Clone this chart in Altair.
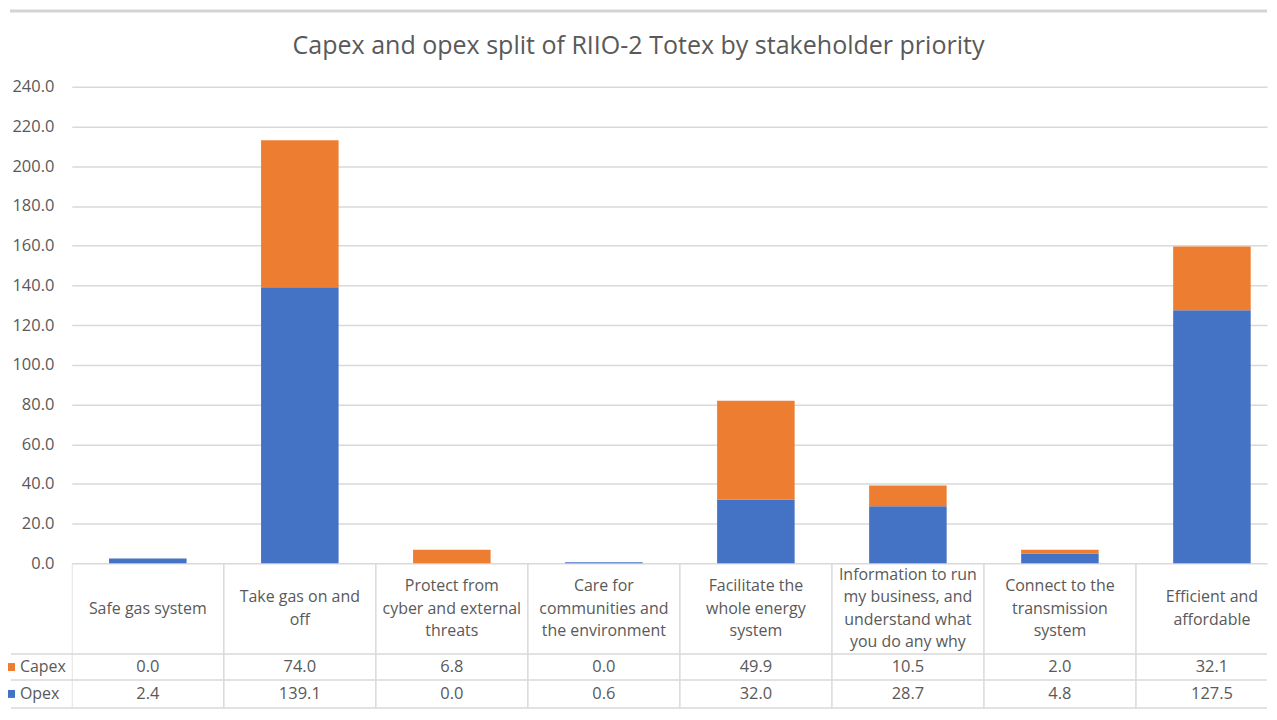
import altair as alt
import pandas as pd

# ---- data ----
categories = [
    "Safe gas system",
    "Take gas on and off",
    "Protect from cyber and external threats",
    "Care for communities and the environment",
    "Facilitate the whole energy system",
    "Information to run my business, and understand what you do any why",
    "Connect to the transmission system",
    "Efficient and affordable",
]
category_labels = [
    "Safe gas system",
    "Take gas on and\noff",
    "Protect from\ncyber and external\nthreats",
    "Care for\ncommunities and\nthe environment",
    "Facilitate the\nwhole energy\nsystem",
    "Information to run\nmy business, and\nunderstand what\nyou do any why",
    "Connect to the\ntransmission\nsystem",
    "Efficient and\naffordable",
]
capex = [0.0, 74.0, 6.8, 0.0, 49.9, 10.5, 2.0, 32.1]
opex = [2.4, 139.1, 0.0, 0.6, 32.0, 28.7, 4.8, 127.5]
series = ["Capex", "Opex"]
series_colors = ["#ED7D31", "#4472C4"]
y_ticks = [0, 20, 40, 60, 80, 100, 120, 140, 160, 180, 200, 220, 240]
title_text = "Capex and opex split of RIIO-2 Totex by stakeholder priority"

# ---- layout / style ----
FONT = "Open Sans"
TXT = "#595959"
GRID = "#D9D9D9"
W = 1199            # visible plot width
COL = 152.5         # table column width (last column runs off the page as in the reference)
LEFT = 62           # left (legend) column width
H_TOP = 76
H_PLOT = 478
H_HDR = 91
H_CAP = 26
H_OPX = 28
BAR_FRAC = 0.51     # bar width as a fraction of a column
X_MAX = W / COL     # visible number of columns
n_cat = len(categories)

# ---- tables built from the arrays ----
long_rows = []
for i, c in enumerate(categories):
    long_rows.append({"category": c, "idx": i, "series": "Opex", "value": opex[i], "stack": 0})
    long_rows.append({"category": c, "idx": i, "series": "Capex", "value": capex[i], "stack": 1})
long_df = pd.DataFrame(long_rows)

hdr_rows = []
for i, lab in enumerate(category_labels):
    lines = lab.split("\n")
    n = len(lines)
    for j, ln in enumerate(lines):
        hdr_rows.append({"idx": i, "line": ln, "pos": j - (n - 1) / 2})
hdr_df = pd.DataFrame(hdr_rows)
cap_df = pd.DataFrame({"idx": list(range(n_cat)), "value": capex})
opx_df = pd.DataFrame({"idx": list(range(n_cat)), "value": opex})
bound_df = pd.DataFrame({"b": list(range(n_cat + 1))})
dummy = pd.DataFrame({"d": [0]})

x_scale = alt.Scale(domain=[0, X_MAX], nice=False, zero=False)


def col_lines():
    return alt.Chart(bound_df).mark_rule(color=GRID, strokeWidth=1.5, clip=True).encode(
        x=alt.X("b:Q", scale=x_scale, axis=None))


def hline(where):
    return alt.Chart(dummy).mark_rule(color=GRID, strokeWidth=1.5).encode(
        x=alt.value(-LEFT + 1), x2=alt.value("width"), y=alt.value(where))


# top border line
top = alt.Chart(dummy).mark_rule(color="#D4D4D4", strokeWidth=3).encode(
    x=alt.value(-LEFT), x2=alt.value("width"), y=alt.value(0)
).properties(width=W, height=H_TOP)

# stacked bars (opex at the bottom, capex on top)
bars = alt.Chart(long_df).transform_stack(
    stack="value", groupby=["idx"], as_=["v0", "v1"],
    sort=[alt.SortField("stack", order="ascending")]
).transform_calculate(
    x0=f"datum.idx + {(1 - BAR_FRAC) / 2}", x1=f"datum.idx + {(1 + BAR_FRAC) / 2}"
).mark_bar().encode(
    x=alt.X("x0:Q", scale=x_scale, axis=None),
    x2="x1:Q",
    y=alt.Y("v0:Q",
            scale=alt.Scale(domain=[0, 240], nice=False, zero=True),
            axis=alt.Axis(values=y_ticks, format=".1f", title=None, domain=False, ticks=False,
                          labelPadding=18, labelFontSize=16.5, labelColor=TXT, labelFont=FONT,
                          gridColor=GRID, gridWidth=1.5)),
    y2="v1:Q",
    color=alt.Color("series:N", scale=alt.Scale(domain=series, range=series_colors),
                    legend=alt.Legend(orient="none", legendX=-LEFT + 1,
                                      legendY=H_TOP + H_PLOT + H_HDR + H_CAP / 2 - 8,
                                      title=None, symbolType="square", symbolSize=64,
                                      symbolStrokeWidth=0, symbolOffset=-8, labelFontSize=16,
                                      labelColor=TXT, labelFont=FONT, labelOffset=1,
                                      rowPadding=(H_CAP + H_OPX) / 2 - 16, padding=0,
                                      direction="vertical")),
    tooltip=["category:N", "series:N", "value:Q"],
).properties(
    width=W, height=H_PLOT,
    title=alt.TitleParams(title_text, fontSize=25.1, font=FONT, fontWeight="normal", color=TXT,
                          anchor="middle", dx=-31, offset=20),
)

# table header row (category names, one text per wrapped line)
hdr_text = alt.Chart(hdr_df).transform_calculate(xc="datum.idx + 0.5").mark_text(
    fontSize=16, font=FONT, color=TXT, clip=True
).encode(
    x=alt.X("xc:Q", scale=x_scale, axis=None),
    y=alt.Y("pos:Q", scale=alt.Scale(domain=[-H_HDR / 45, H_HDR / 45], reverse=True), axis=None),
    text="line:N",
)
hdr = alt.layer(col_lines(), hdr_text).properties(width=W, height=H_HDR)


def value_row(df, h, bottom=False):
    txt = alt.Chart(df).transform_calculate(xc="datum.idx + 0.5").mark_text(
        fontSize=16.5, font=FONT, color=TXT, clip=True
    ).encode(
        x=alt.X("xc:Q", scale=x_scale, axis=None),
        text=alt.Text("value:Q", format=".1f"),
    )
    layers = [col_lines(), txt, hline(0)]
    if bottom:
        layers.append(hline("height"))
    return alt.layer(*layers).properties(width=W, height=h)


cap_row = value_row(cap_df, H_CAP)
opx_row = value_row(opx_df, H_OPX, bottom=True)

chart = alt.vconcat(top, bars, hdr, cap_row, opx_row, spacing=0, bounds="flush",
                    padding=0).configure(font=FONT).configure_view(stroke=None)

chart.save("out.html", embed_options={"renderer": "svg", "actions": False})
